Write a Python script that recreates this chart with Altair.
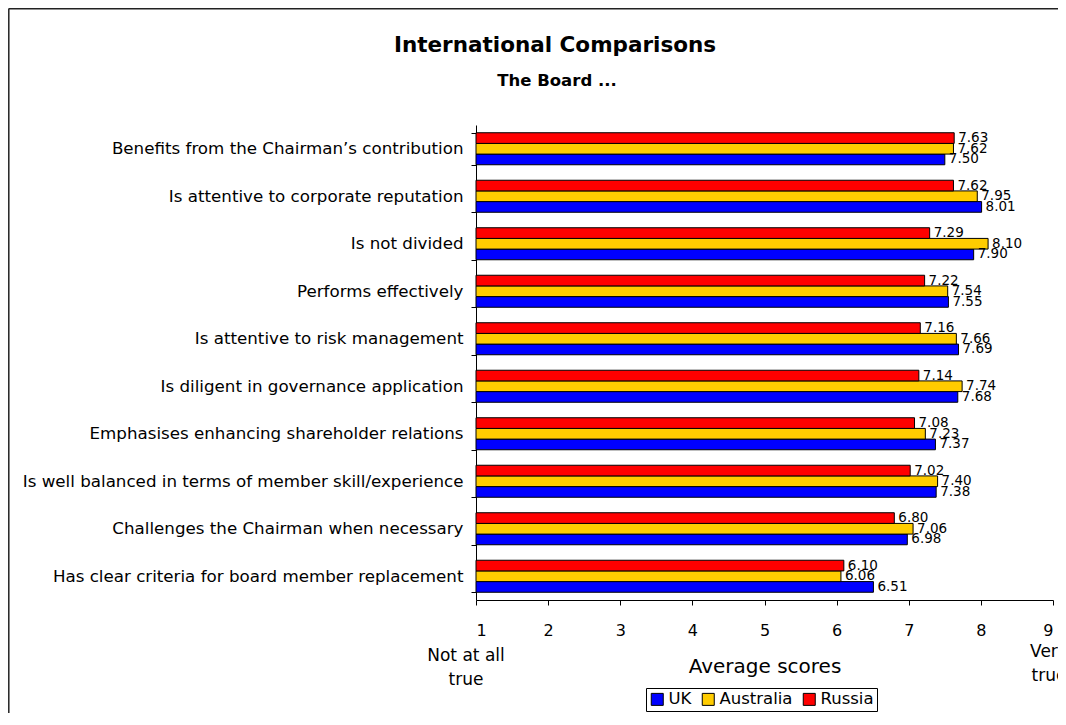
import altair as alt
import pandas as pd

categories = [
    "Benefits from the Chairman\u2019s contribution",
    "Is attentive to corporate reputation",
    "Is not divided",
    "Performs effectively",
    "Is attentive to risk management",
    "Is diligent in governance application",
    "Emphasises enhancing shareholder relations",
    "Is well balanced in terms of member skill/experience",
    "Challenges the Chairman when necessary",
    "Has clear criteria for board member replacement",
]
series = ["UK", "Australia", "Russia"]
uk = [7.50, 8.01, 7.90, 7.55, 7.69, 7.68, 7.37, 7.38, 6.98, 6.51]
australia = [7.62, 7.95, 8.10, 7.54, 7.66, 7.74, 7.23, 7.40, 7.06, 6.06]
russia = [7.63, 7.62, 7.29, 7.22, 7.16, 7.14, 7.08, 7.02, 6.80, 6.10]
colors = ["#0000FF", "#FFCC00", "#FF0000"]
x_ticks = [1, 2, 3, 4, 5, 6, 7, 8, 9]

rows = []
for i, c in enumerate(categories):
    for s, vals in zip(series, [uk, australia, russia]):
        rows.append({"category": c, "series": s, "value": vals[i], "label": f"{vals[i]:.2f}"})
df = pd.DataFrame(rows)

FONT = "DejaVu Sans"
W, H = 577, 475
TOP, LEFT = 125, 476  # page position of plot origin

y_enc = alt.Y("category:N", sort=categories, title=None,
              scale=alt.Scale(paddingInner=0.326, paddingOuter=0.163),
              axis=alt.Axis(tickBand="extent", labelFontSize=16.7, labelColor="black",
                            labelFont=FONT, labelLimit=0, labelPadding=8,
                            tickSize=5, tickColor="black", domainColor="black",
                            labelAlign="right"))
yoff = alt.YOffset("series:N", sort=["Russia", "Australia", "UK"])
x_scale = alt.Scale(domain=[1, 9], nice=False, zero=False)

bars = alt.Chart(df).mark_bar(stroke="black", strokeWidth=1).encode(
    x=alt.X("value:Q", scale=x_scale, title=None,
            axis=alt.Axis(values=x_ticks, format="d", labelFontSize=16, labelColor="black",
                          labelFont=FONT, tickSize=5, tickColor="black", domainColor="black",
                          labelPadding=17, grid=False)),
    x2=alt.datum(1),
    y=y_enc,
    yOffset=yoff,
    color=alt.Color("series:N", sort=series,
                    scale=alt.Scale(domain=series, range=colors),
                    legend=alt.Legend(title=None, orient="none", legendX=170, legendY=563,
                                      direction="horizontal", columns=3,
                                      symbolType="square", symbolSize=144,
                                      symbolStrokeColor="black", symbolStrokeWidth=1,
                                      labelFontSize=16.5, labelFont=FONT, labelColor="black",
                                      strokeColor="black", padding=3, columnPadding=8,
                                      labelOffset=3, symbolOpacity=1)),
)

labels = alt.Chart(df).mark_text(align="left", baseline="middle", dx=4, fontSize=13.5,
                                 font=FONT, color="black").encode(
    x=alt.X("value:Q", scale=x_scale),
    y=alt.Y("category:N", sort=categories),
    yOffset=yoff,
    text="label:N",
)

title_df = pd.DataFrame({"t": ["International Comparisons"]})
subtitle_df = pd.DataFrame({"t": ["The Board ..."]})
xtitle_df = pd.DataFrame({"t": ["Average scores"]})
left_df = pd.DataFrame({"t": [["Not at all", "true"]]})
right_df = pd.DataFrame({"t": [["Very", "true"]]})

title = alt.Chart(title_df).mark_text(fontSize=21.5, fontWeight="bold", font=FONT, color="black",
                                      baseline="alphabetic").encode(
    text="t:N", x=alt.value(555 - LEFT), y=alt.value(52 - TOP))
subtitle = alt.Chart(subtitle_df).mark_text(fontSize=16.5, fontWeight="bold", font=FONT, color="black",
                                            baseline="alphabetic").encode(
    text="t:N", x=alt.value(557 - LEFT), y=alt.value(86 - TOP))
xtitle = alt.Chart(xtitle_df).mark_text(fontSize=20, font=FONT, color="black",
                                        baseline="alphabetic").encode(
    text="t:N", x=alt.value(765 - LEFT), y=alt.value(673 - TOP))
left_t = alt.Chart(left_df).mark_text(fontSize=17, font=FONT, color="black", lineHeight=24,
                                      baseline="alphabetic").encode(
    text="t:N", x=alt.value(466 - LEFT), y=alt.value(661 - TOP))
right_t = alt.Chart(right_df).mark_text(fontSize=17, font=FONT, color="black", lineHeight=24,
                                        baseline="alphabetic").encode(
    text="t:N", x=alt.value(1049 - LEFT), y=alt.value(657 - TOP))

frame_left = alt.Chart(title_df).mark_rule(color="#222222", strokeWidth=1.5).encode(
    x=alt.value(-467.2), y=alt.value(-116.5), y2=alt.value(H + 130))
frame_top = alt.Chart(title_df).mark_rule(color="#222222", strokeWidth=1.5).encode(
    x=alt.value(-467.2), x2=alt.value(W + 20), y=alt.value(-116.2))

chart = alt.layer(bars, labels, title, subtitle, xtitle, left_t, right_t, frame_left, frame_top).properties(
    width=W, height=H,
    autosize=alt.AutoSizeParams(type="none"),
    padding={"left": 468, "top": 117, "right": 5, "bottom": 113},
    background="white",
).configure_view(stroke=None)

chart.save("out.html", embed_options={"renderer": "svg", "actions": False})
